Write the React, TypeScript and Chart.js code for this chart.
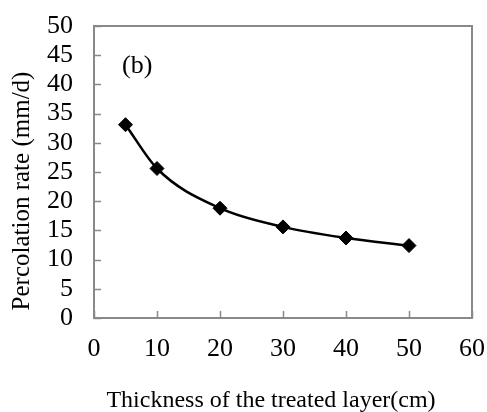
import React, { useEffect, useRef } from "react";
import { Chart, registerables } from "chart.js";

Chart.register(...registerables);

const thickness = [5, 10, 20, 30, 40, 50];
const percolationRate = [33.1, 25.6, 18.8, 15.6, 13.7, 12.4];
const xTicks = [0, 10, 20, 30, 40, 50, 60];
const yTicks = [0, 5, 10, 15, 20, 25, 30, 35, 40, 45, 50];
const xTitle = "Thickness of the treated layer(cm)";
const yTitle = "Percolation rate (mm/d)";
const panelLabel = "(b)";

const FONT = '"Liberation Serif", "Times New Roman", serif';
const AXIS = "#898989";

const decorPlugin = {
  id: "decor",
  afterDraw(chart: any) {
    const { ctx, chartArea, scales } = chart;
    const x = scales.x;
    const y = scales.y;
    ctx.save();
    ctx.strokeStyle = AXIS;
    ctx.lineWidth = 2;
    ctx.beginPath();
    ctx.moveTo(chartArea.left, chartArea.top);
    ctx.lineTo(chartArea.right, chartArea.top);
    ctx.lineTo(chartArea.right, chartArea.bottom);
    ctx.stroke();
    ctx.lineWidth = 1.5;
    ctx.beginPath();
    xTicks.forEach((v) => {
      const px = Math.round(x.getPixelForValue(v)) + 0.5;
      ctx.moveTo(px, chartArea.bottom);
      ctx.lineTo(px, chartArea.bottom - 7);
    });
    yTicks.forEach((v) => {
      const py = Math.round(y.getPixelForValue(v)) + 0.5;
      ctx.moveTo(chartArea.left, py);
      ctx.lineTo(chartArea.left + 7, py);
    });
    ctx.stroke();

    ctx.fillStyle = "#000";
    ctx.font = `24px ${FONT}`;
    ctx.textAlign = "center";
    ctx.textBaseline = "middle";
    ctx.fillText(xTitle, 271, 401);

    ctx.save();
    ctx.font = `25px ${FONT}`;
    ctx.translate(22, 191);
    ctx.rotate(-Math.PI / 2);
    ctx.fillText(yTitle, 0, 0);
    ctx.restore();

    ctx.font = `26px ${FONT}`;
    ctx.textAlign = "left";
    ctx.fillText(panelLabel, 122, 66);
    ctx.restore();
  },
};

export default function App() {
  const ref = useRef<HTMLCanvasElement | null>(null);
  useEffect(() => {
    if (!ref.current) return;
    const chart = new Chart(ref.current, {
      type: "line",
      data: {
        datasets: [
          {
            data: thickness.map((t, i) => ({ x: t, y: percolationRate[i] })),
            borderColor: "#000",
            backgroundColor: "#000",
            borderWidth: 2.5,
            cubicInterpolationMode: "monotone",
            pointStyle: "rectRot",
            pointRadius: 7,
            pointBorderWidth: 1,
            pointBackgroundColor: "#000",
            pointBorderColor: "#000",
          },
        ],
      },
      options: {
        responsive: false,
        animation: false,
        layout: { padding: { top: 26, right: 15, left: 0, bottom: 0 } },
        plugins: { legend: { display: false }, tooltip: { enabled: false } },
        scales: {
          x: {
            type: "linear",
            min: 0,
            max: 60,
            afterBuildTicks: (s: any) => {
              s.ticks = xTicks.map((v) => ({ value: v }));
            },
            afterFit: (s: any) => {
              s.height = 94;
              s.paddingLeft = 0;
              s.paddingRight = 0;
            },
            grid: { display: false, drawTicks: false },
            border: { display: true, color: AXIS, width: 2 },
            ticks: {
              autoSkip: false,
              padding: 16,
              color: "#000",
              font: { family: FONT, size: 26 },
              maxRotation: 0,
            },
          },
          y: {
            type: "linear",
            min: 0,
            max: 50,
            afterBuildTicks: (s: any) => {
              s.ticks = yTicks.map((v) => ({ value: v }));
            },
            afterFit: (s: any) => {
              s.width = 94;
              s.paddingTop = 0;
              s.paddingBottom = 0;
            },
            grid: { display: false, drawTicks: false },
            border: { display: true, color: AXIS, width: 2 },
            ticks: {
              autoSkip: false,
              padding: 21,
              color: "#000",
              font: { family: FONT, size: 26 },
            },
          },
        },
      },
      plugins: [decorPlugin],
    });
    return () => chart.destroy();
  }, []);
  return (
    <div style={{ position: "absolute", left: 0, top: 0, width: 487, height: 412, background: "#fff" }}>
      <canvas ref={ref} width={487} height={412} style={{ display: "block" }} />
    </div>
  );
}
